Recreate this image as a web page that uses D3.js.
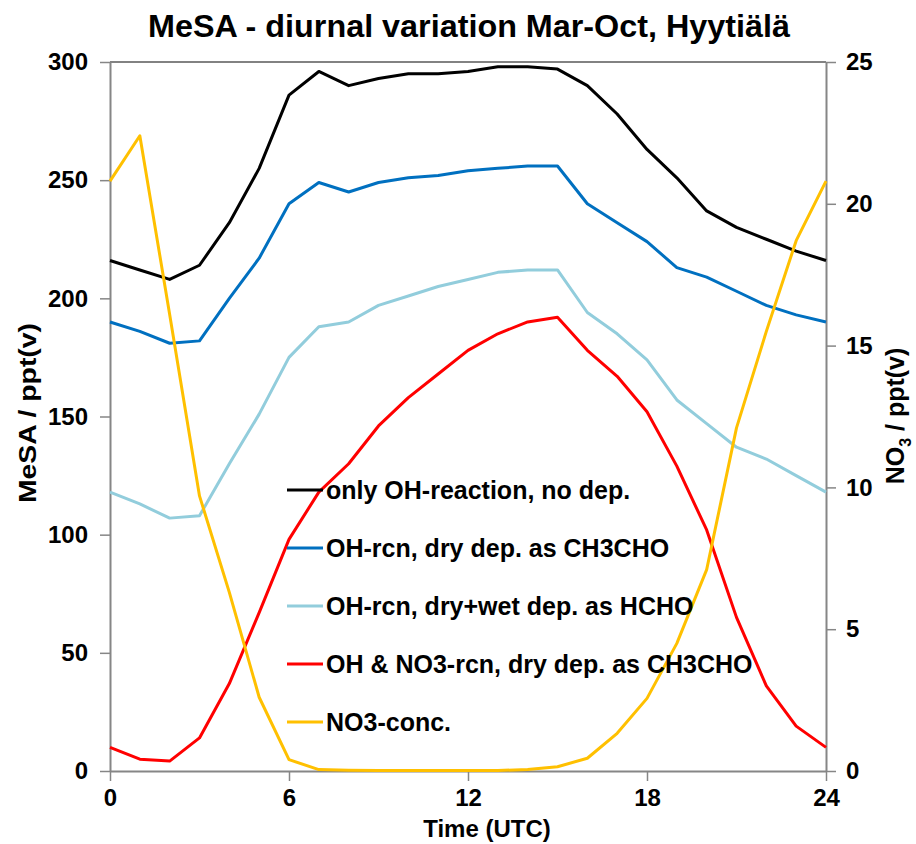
<!DOCTYPE html>
<html>
<head>
<meta charset="utf-8">
<script src="https://cdn.jsdelivr.net/npm/d3@7"></script>
<style>
  body { margin: 0; background: #fff; }
  svg { font-family: 'Liberation Sans', Arial, sans-serif; font-weight: bold; }
</style>
</head>
<body>
<svg id="chart" width="916" height="844"></svg>
<script>
const hours = d3.range(0, 25);
const xTicks = [0, 6, 12, 18, 24];
const leftTicks = [0, 50, 100, 150, 200, 250, 300];
const rightTicks = [0, 5, 10, 15, 20, 25];

const onlyOH = [216, 212, 208, 214, 232, 255, 286, 296, 290, 293, 295, 295, 296, 298, 298, 297, 290, 278, 263, 251, 237, 230, 225, 220, 216];
const ohDryCH3CHO = [190, 186, 181, 182, 200, 217, 240, 249, 245, 249, 251, 252, 254, 255, 256, 256, 240, 232, 224, 213, 209, 203, 197, 193, 190];
const ohDryWetHCHO = [118, 113, 107, 108, 130, 151, 175, 188, 190, 197, 201, 205, 208, 211, 212, 212, 194, 185, 174, 157, 147, 137, 132, 125, 118];
const ohNo3Dry = [10, 5, 4.2, 14, 37, 67, 98, 118, 130, 146, 158, 168, 178, 185, 190, 192, 178, 167, 152, 129, 102, 65, 36, 19, 10];
const no3Conc = [20.8, 22.4, 16.1, 9.7, 6.3, 2.6, 0.4, 0.05, 0.03, 0.02, 0.02, 0.02, 0.02, 0.02, 0.05, 0.15, 0.45, 1.33, 2.56, 4.5, 7.1, 12.1, 15.5, 18.7, 20.8];

const seriesNames = [
  'only OH-reaction, no dep.',
  'OH-rcn, dry dep. as CH3CHO',
  'OH-rcn, dry+wet dep. as HCHO',
  'OH & NO3-rcn, dry dep. as CH3CHO',
  'NO3-conc.',
];
const seriesColors = ['#000000', '#0070C0', '#92CDDC', '#FF0000', '#FFC000'];

const svg = d3.select('#chart');
const margin = { top: 62, right: 90, bottom: 73, left: 110 };
const width = 916;
const height = 844;

const x = d3.scaleLinear().domain([0, 24]).range([margin.left, width - margin.right]);
const y = d3.scaleLinear().domain([0, 300]).range([height - margin.bottom, margin.top]);
const y2 = d3.scaleLinear().domain([0, 25]).range([height - margin.bottom, margin.top]);

const axisColor = '#868686';

// top border of the plot area
svg.append('line')
  .attr('x1', x(0)).attr('x2', x(24))
  .attr('y1', y(300)).attr('y2', y(300))
  .attr('stroke', '#595959').attr('stroke-width', 1.5);

const styleAxis = (g) => {
  g.select('.domain').attr('stroke', axisColor).attr('stroke-width', 2);
  g.selectAll('.tick line').attr('stroke', axisColor).attr('stroke-width', 1.5);
  g.selectAll('.tick text')
    .attr('fill', '#000')
    .style('font-size', '24px')
    .style('font-weight', 'bold');
};

svg.append('g')
  .attr('transform', `translate(0,${y(0)})`)
  .call(d3.axisBottom(x).tickValues(xTicks).tickSize(10).tickSizeOuter(0).tickPadding(8))
  .call(styleAxis);

svg.append('g')
  .attr('transform', `translate(${x(0)},0)`)
  .call(d3.axisLeft(y).tickValues(leftTicks).tickSize(10).tickSizeOuter(0).tickPadding(12))
  .call(styleAxis);

svg.append('g')
  .attr('transform', `translate(${x(24)},0)`)
  .call(d3.axisRight(y2).tickValues(rightTicks).tickSize(10).tickSizeOuter(0).tickPadding(10))
  .call(styleAxis);

// series lines
const leftSeries = [onlyOH, ohDryCH3CHO, ohDryWetHCHO, ohNo3Dry];
const lineLeft = d3.line().x((d, i) => x(hours[i])).y((d) => y(d));
const lineRight = d3.line().x((d, i) => x(hours[i])).y((d) => y2(d));

const linesG = svg.append('g').attr('fill', 'none').attr('stroke-width', 3).attr('stroke-linejoin', 'round');
leftSeries.forEach((values, k) => {
  linesG.append('path')
    .datum(values)
    .attr('d', lineLeft)
    .attr('stroke', seriesColors[k]);
});
linesG.append('path')
  .datum(no3Conc)
  .attr('d', lineRight)
  .attr('stroke', seriesColors[4]);

// legend
const legend = svg.append('g').attr('transform', 'translate(287,490)');
seriesNames.forEach((name, i) => {
  const row = legend.append('g').attr('transform', `translate(0,${i * 58})`);
  row.append('line')
    .attr('x1', 0).attr('x2', 36)
    .attr('stroke', seriesColors[i]).attr('stroke-width', 3);
  row.append('text')
    .attr('x', 39).attr('y', 9)
    .style('font-size', '25px')
    .text(name);
});

// title
svg.append('text')
  .attr('x', 469).attr('y', 37)
  .attr('text-anchor', 'middle')
  .attr('textLength', 642)
  .attr('lengthAdjust', 'spacingAndGlyphs')
  .style('font-size', '31px')
  .text('MeSA - diurnal variation Mar-Oct, Hyytiälä');

// axis titles
svg.append('text')
  .attr('transform', `translate(36,413) rotate(-90)`)
  .attr('text-anchor', 'middle')
  .attr('textLength', 180)
  .attr('lengthAdjust', 'spacingAndGlyphs')
  .style('font-size', '24px')
  .text('MeSA / ppt(v)');

const rightTitle = svg.append('text')
  .attr('transform', `translate(904,416) rotate(-90)`)
  .attr('text-anchor', 'middle')
  .style('font-size', '25px');
rightTitle.append('tspan').text('NO');
rightTitle.append('tspan').attr('dy', 7).style('font-size', '16px').text('3');
rightTitle.append('tspan').attr('dy', -7).text(' / ppt(v)');

svg.append('text')
  .attr('x', 487).attr('y', 837)
  .attr('text-anchor', 'middle')
  .style('font-size', '24px')
  .text('Time (UTC)');
</script>
</body>
</html>
